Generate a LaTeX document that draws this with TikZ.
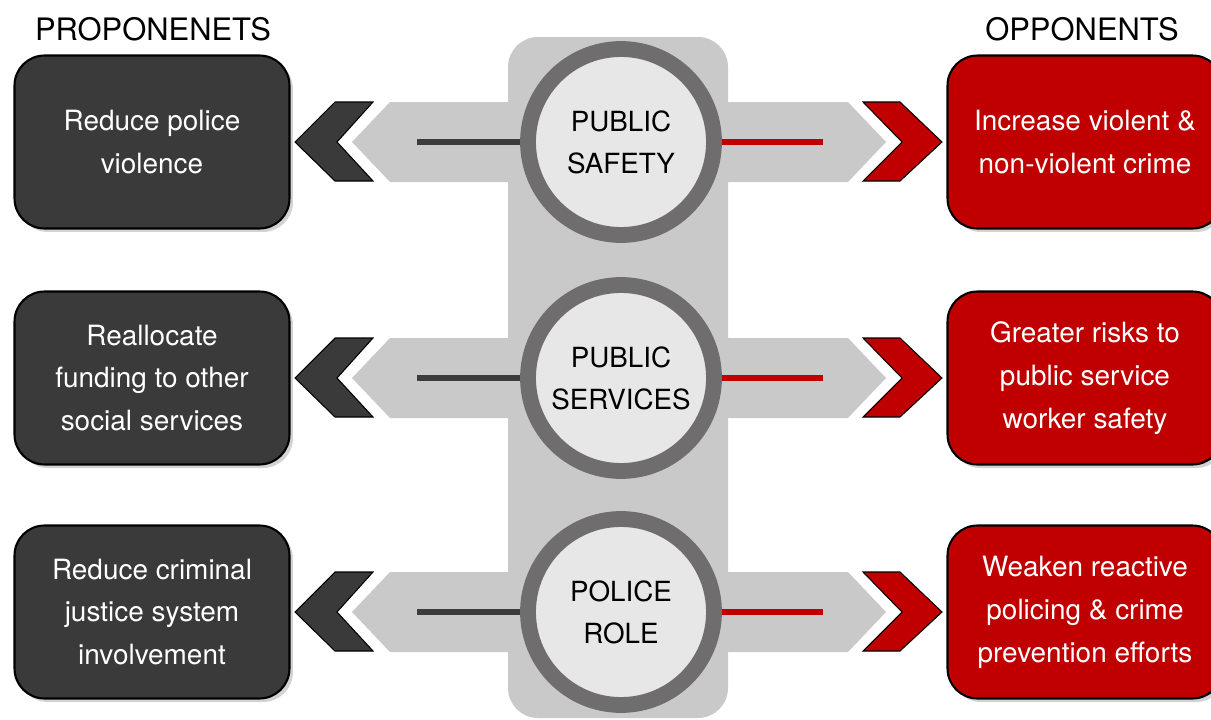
\documentclass[tikz,border=0pt]{standalone}
\usepackage{fontspec}
\setmainfont{TeX Gyre Heros}
\usetikzlibrary{shadows}
\definecolor{boxdark}{HTML}{3A3A3A}
\definecolor{boxred}{HTML}{C00000}
\definecolor{bandgray}{HTML}{C9C9C9}
\definecolor{ringgray}{HTML}{6F6D6E}
\definecolor{discgray}{HTML}{E8E7E8}
\definecolor{linedark}{HTML}{3C3C3C}
\begin{document}
\begin{tikzpicture}[x=0.02cm,y=-0.02cm,
  every node/.style={align=center},
  title/.style={font=\fontsize{17.6}{20}\selectfont},
  sidebox/.style={rectangle,rounded corners=0.6cm,minimum width=5.5cm,minimum height=3.46cm,
    draw=black,line width=1.2pt,text=white,font=\fontsize{15.9}{24.4}\selectfont,
    drop shadow={shadow xshift=2pt,shadow yshift=-2pt,opacity=0.35}},
  topic/.style={circle,minimum size=3.72cm,inner sep=0pt,draw=ringgray,line width=9pt,
    fill=discgray,font=\fontsize{15.8}{24}\selectfont},
  chevron/.style={draw=black,line width=0.6pt}]
 \useasboundingbox (0,0) rectangle (1211,720);
 % centre column
 \fill [bandgray,rounded corners=0.6cm] (508,37) rectangle (728,718);
 \node [title] (protitle) at (153,29) {PROPONENETS};
 \node [title] (opptitle) at (1082,29) {OPPONENTS};
 \foreach \i/\y/\topic/\pro/\opp in {
   1/142/{PUBLIC\\SAFETY}/{Reduce police\\violence}/{Increase violent \&\\non-violent crime},
   2/378/{PUBLIC\\SERVICES}/{Reallocate\\funding to other\\social services}/{Greater risks to\\public service\\worker safety},
   3/612/{POLICE\\ROLE}/{Reduce criminal\\justice system\\involvement}/{Weaken reactive\\policing \& crime\\prevention efforts}} {
  % arrow bands
  \fill [bandgray] (620,\y-40) -- (390,\y-40) -- (352,\y) -- (390,\y+40) -- (620,\y+40) -- cycle;
  \fill [bandgray] (620,\y-40) -- (848,\y-40) -- (886,\y) -- (848,\y+40) -- (620,\y+40) -- cycle;
  % chevrons
  \filldraw [chevron,fill=boxdark] (295,\y) -- (335,\y-40) -- (373,\y-40) -- (337,\y)
    -- (373,\y+39) -- (335,\y+39) -- cycle;
  \filldraw [chevron,fill=boxred] (942,\y) -- (900,\y-40) -- (863,\y-40) -- (902,\y)
    -- (863,\y+39) -- (900,\y+39) -- cycle;
  \coordinate (pl\i) at (417,\y);
  \coordinate (ol\i) at (823,\y);
  \node [sidebox,fill=boxdark] (pro\i) at (152,\y) {\pro};
  \node [sidebox,fill=boxred] (opp\i) at (1085,\y) {\opp};
  \node [topic] (t\i) at (621,\y) {\topic};
  \draw [linedark,line width=3pt] (pl\i) -- (t\i.west);
  \draw [boxred,line width=3pt] (t\i.east) -- (ol\i);
 }
\end{tikzpicture}
\end{document}
